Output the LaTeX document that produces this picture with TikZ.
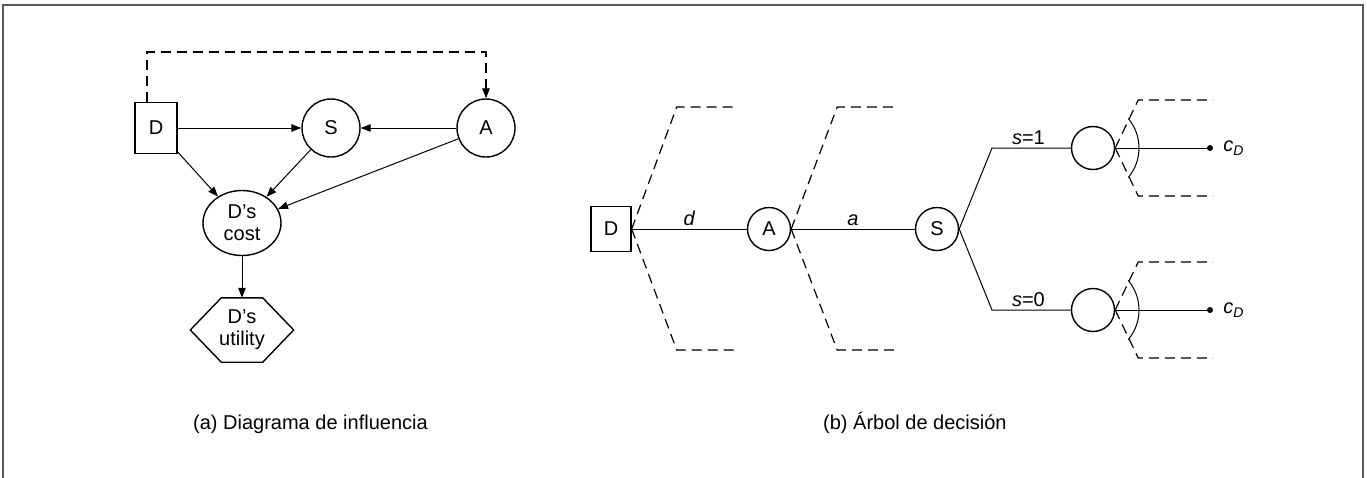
\documentclass[tikz,border=0pt]{standalone}
\usepackage{fontspec}
\setmainfont{Liberation Sans}
\usetikzlibrary{shapes.geometric,arrows.meta}
\begin{document}
\begin{tikzpicture}[x=1pt,y=-1pt,
  font=\fontsize{20}{22}\selectfont,
  every node/.style={inner sep=0pt},
  nline/.style={line width=1.4pt},
  box/.style={draw, nline, minimum width=41pt, minimum height=50pt},
  chance/.style={draw, circle, nline, minimum size=58pt},
  smallchance/.style={draw, circle, nline, minimum size=43pt},
  conn/.style={line width=1pt},
  arr/.style={conn, -{Triangle[length=10pt,width=7.5pt]}},
  dashline/.style={line width=1.2pt, dash pattern=on 10pt off 6pt},
  dot/.style={circle, fill, minimum size=6pt}
]
\useasboundingbox (0,0) rectangle (1367,477);
\draw[line width=2pt, black!65] (3,490) -- (3,5) -- (1363,5) -- (1363,490);

% ---------- (a) influence diagram ----------
\node[box, minimum width=42pt, minimum height=51pt] (D1) at (156,128) {D};
\node[chance] (S1) at (331,128) {S};
\node[chance] (A1) at (486,128) {A};
\node[ellipse, draw, nline, minimum width=78pt, minimum height=65pt, align=center] (C1) at (242,223) {D’s\\cost};
\node[minimum width=103pt, minimum height=64pt, align=center] (U1) at (242,330) {D’s\\utility};
\draw[nline] (U1.west) -- ([xshift=31pt]U1.north west) -- ([xshift=-31pt]U1.north east) -- (U1.east) -- ([xshift=-31pt]U1.south east) -- ([xshift=31pt]U1.south west) -- cycle;

\coordinate (top) at (0,52);
\draw[dashline, -{Triangle[length=10pt,width=7.5pt]}] ([xshift=-9pt]D1.north) |- (top -| A1.north) -- (A1.north);
\draw[arr] (D1) -- (S1);
\draw[arr] (A1) -- (S1);
\draw[arr] (D1) -- (C1);
\draw[arr] (S1) -- (C1);
\draw[arr] (A1) -- (C1);
\draw[arr] (C1) -- (U1.north);

\node[anchor=base west] (capA) at (193,429) {(a) Diagrama de influencia};

% ---------- (b) decision tree ----------
\node[box, minimum width=40pt, minimum height=45pt] (D2) at (611,229) {D};
\node[smallchance] (A2) at (769,229) {A};
\node[smallchance] (S2) at (937,229) {S};
\node[smallchance] (E1) at (1093,148) {};
\node[smallchance] (E0) at (1093,310) {};
\coordinate (k1) at (992,148);
\coordinate (k0) at (992,310);
\node[dot] (T1) at (1210,148) {};
\node[dot] (T0) at (1210,310) {};

\draw[conn] (D2) -- node[midway, above, yshift=3pt] {\itshape d} (A2);
\draw[conn] (A2) -- node[midway, above, yshift=3pt] {\itshape a} (S2);
\draw[conn] (S2.east) -- (k1) -- node[midway, above, yshift=3pt, xshift=-3pt] {\textit{s}=1} (E1);
\draw[conn] (S2.east) -- (k0) -- node[midway, above, yshift=3pt, xshift=-3pt] {\textit{s}=0} (E0);
\draw[conn] (E1) -- (T1);
\draw[conn] (E0) -- (T0);
\node[anchor=west] (L1) at ([xshift=10pt]T1.east) {\itshape c\raisebox{-0.35ex}{\fontsize{14}{14}\selectfont D}};
\node[anchor=west] (L0) at ([xshift=10pt]T0.east) {\itshape c\raisebox{-0.35ex}{\fontsize{14}{14}\selectfont D}};

\draw[dashline] (D2.east) -- ++(45,-122) -- ++(59,0);
\draw[dashline] (D2.east) -- ++(45,121) -- ++(59,0);
\draw[dashline] (A2.east) -- ++(46,-122) -- ++(60,0);
\draw[dashline] (A2.east) -- ++(46,121) -- ++(60,0);
\draw[dashline] (E1.east) -- ++(23,-48) -- ++(75,0);
\draw[dashline] (E1.east) -- ++(23,48) -- ++(75,0);
\draw[dashline] (E0.east) -- ++(23,-48) -- ++(75,0);
\draw[dashline] (E0.east) -- ++(23,48) -- ++(75,0);

\draw[conn] ([shift={(40:46)}]E1.center) arc[start angle=40, end angle=-40, radius=46];
\draw[conn] ([shift={(40:46)}]E0.center) arc[start angle=40, end angle=-40, radius=46];

\node[anchor=base west] (capB) at (823,429) {(b) Árbol de decisión};
\end{tikzpicture}
\end{document}
